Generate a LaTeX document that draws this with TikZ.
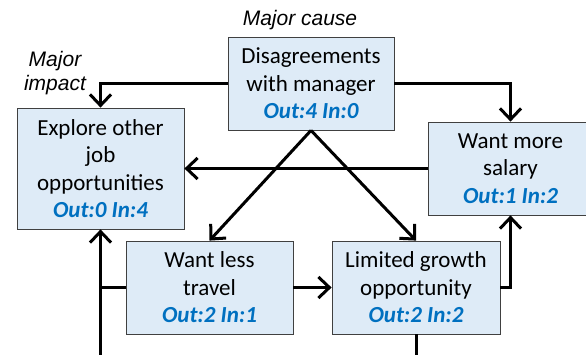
\documentclass[tikz,border=0pt]{standalone}
\usepackage{fontspec}
\setmainfont{Carlito}
\newfontfamily\labelfont{Liberation Sans}
\usetikzlibrary{arrows.meta}

\definecolor{boxfill}{HTML}{DEEBF7}
\definecolor{boxline}{HTML}{404040}
\definecolor{countblue}{HTML}{0070C0}
\newcommand{\outin}[2]{\textcolor{countblue}{\bfseries\itshape Out:#1 In:#2}}

\begin{document}
\begin{tikzpicture}[x=1pt, y=-1pt,
    factor/.style={draw=boxline, fill=boxfill, line width=0.8pt, inner sep=0pt,
      minimum height=93pt, align=center, font=\fontsize{23}{27.5}\selectfont},
    link/.style={line width=3pt, -{Straight Barb[length=11pt, width=21pt, line width=3pt]}},
    plainlink/.style={line width=3pt},
    tag/.style={font=\labelfont\itshape\fontsize{21}{24}\selectfont, align=center}]
  \useasboundingbox (0,0) rectangle (586,354);

  % factors
  \node[factor, minimum width=166pt] (dis) at (311,83.5) {Disagreements\\with manager\\\outin{4}{0}};
  \node[factor, minimum width=167pt, minimum height=121pt] (exp) at (100.5,168.5) {Explore other\\job\\opportunities\\\outin{0}{4}};
  \node[factor, minimum width=164pt] (sal) at (510.5,168.5) {Want more\\salary\\\outin{1}{2}};
  \node[factor, minimum width=167pt] (les) at (209.5,287.5) {Want less\\travel\\\outin{2}{1}};
  \node[factor, minimum width=168pt] (lim) at (416,287.5) {Limited growth\\opportunity\\\outin{2}{2}};

  % notes
  \node[tag] (cause) at (300,20) {Major cause};
  \node[tag] (impact) at (55,73) {Major\\impact};

  % links leaving the picture
  \coordinate (expin) at (100.5,362);
  \coordinate (limout) at (416,362);

  \draw[link] (dis.west) -| (exp.north);
  \draw[link] (dis.east) -| (sal.north);
  \draw[link] (sal.west) -- (exp.east);
  \draw[link] (dis.south) -- (les.north);
  \draw[link] (dis.south) -- (lim.north);
  \draw[link] (les.east) -- (lim.west);
  \draw[link] (lim.east) -| (sal.south);
  \draw[link] (expin) -- (exp.south);
  \draw[plainlink] (les.west) -- (les.west -| expin);
  \draw[plainlink] (lim.south) -- (limout);
\end{tikzpicture}
\end{document}
